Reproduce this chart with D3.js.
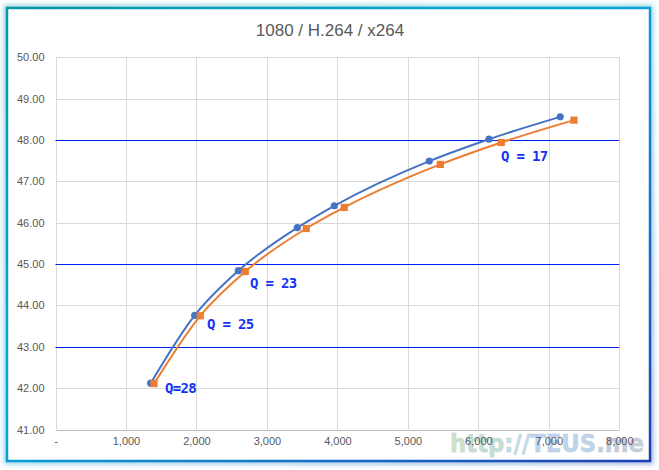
<!DOCTYPE html>
<html>
<head>
<meta charset="utf-8">
<script src="https://cdn.jsdelivr.net/npm/d3@7"></script>
<style>
  html, body { margin: 0; padding: 0; background: #fff; }
  svg { display: block; }
</style>
</head>
<body>
<div id="chartDiv"></div>
<script>
//chart data
var bitrates1 = [1351, 1975, 2594, 3431, 3956, 5304, 6151, 7162];
var psnr1 = [42.12, 43.76, 44.84, 45.88, 46.41, 47.49, 48.02, 48.56];
var bitrates2 = [1398, 2054, 2693, 3558, 4097, 5460, 6325, 7357];
var psnr2 = [42.11, 43.75, 44.82, 45.86, 46.37, 47.41, 47.94, 48.48];

var xTicks = [0, 1000, 2000, 3000, 4000, 5000, 6000, 7000, 8000];
var yTicks = [41, 42, 43, 44, 45, 46, 47, 48, 49, 50];
var refLines = [48, 45, 43];

var qLabels = ["Q=28", "Q = 25", "Q = 23", "Q = 17"];
var qLabelX = [1554, 2150, 2760, 6322];
var qLabelY = [42.0, 43.55, 44.54, 47.61];

var titleText = "1080 / H.264 / x264";

var W = 659, H = 470;
var margin = { left: 55.5, right: 39.7, top: 57.3, bottom: 40.5 };

var svg = d3.select("#chartDiv")
    .append("svg")
    .attr("width", W)
    .attr("height", H);

var defs = svg.append("defs");

var grad = defs.append("linearGradient")
    .attr("id", "frameGrad")
    .attr("x1", "0%").attr("y1", "0%")
    .attr("x2", "100%").attr("y2", "100%");
grad.append("stop").attr("offset", "0%").attr("stop-color", "#0a97a8");
grad.append("stop").attr("offset", "45%").attr("stop-color", "#0aa6d6");
grad.append("stop").attr("offset", "100%").attr("stop-color", "#1c3fb4");

var glow = defs.append("filter")
    .attr("id", "glow")
    .attr("x", "-5%").attr("y", "-5%")
    .attr("width", "110%").attr("height", "110%");
glow.append("feGaussianBlur").attr("stdDeviation", 2.5);

// frame: blurred halo then the crisp border
svg.append("rect")
    .attr("x", 7).attr("y", 8)
    .attr("width", 643).attr("height", 453)
    .attr("fill", "none")
    .attr("stroke", "url(#frameGrad)")
    .attr("stroke-opacity", 0.45)
    .attr("stroke-width", 6)
    .attr("filter", "url(#glow)");

svg.append("rect")
    .attr("x", 7).attr("y", 8)
    .attr("width", 643).attr("height", 453)
    .attr("fill", "#fff")
    .attr("stroke", "url(#frameGrad)")
    .attr("stroke-width", 2.5);

var x = d3.scaleLinear()
    .domain([0, 8000])
    .range([margin.left, W - margin.right]);

var y = d3.scaleLinear()
    .domain([41, 50])
    .range([H - margin.bottom, margin.top]);

//snap a coordinate to the pixel centre so 1px lines stay sharp
function crisp(v) { return Math.round(v) + 0.5; }

//title
svg.append("text")
    .attr("x", 330)
    .attr("y", 36)
    .attr("text-anchor", "middle")
    .attr("font-family", "Liberation Sans, Arial, sans-serif")
    .attr("font-size", "17px")
    .attr("fill", "#595959")
    .text(titleText);

//gridlines
var grid = svg.append("g").attr("class", "grid");

grid.selectAll(".vline")
    .data(xTicks)
    .enter().append("line")
    .attr("class", "vline")
    .attr("x1", function(d) { return crisp(x(d)); })
    .attr("x2", function(d) { return crisp(x(d)); })
    .attr("y1", y(50))
    .attr("y2", y(41))
    .attr("stroke", "#d9d9d9")
    .attr("stroke-width", 1);

grid.selectAll(".hline")
    .data(yTicks)
    .enter().append("line")
    .attr("class", "hline")
    .attr("x1", x(0))
    .attr("x2", x(8000))
    .attr("y1", function(d) { return crisp(y(d)); })
    .attr("y2", function(d) { return crisp(y(d)); })
    .attr("stroke", function(d) { return d === 41 ? "#bfbfbf" : "#d9d9d9"; })
    .attr("stroke-width", 1);

//blue reference lines
svg.append("g").selectAll("line")
    .data(refLines)
    .enter().append("line")
    .attr("x1", x(0))
    .attr("x2", x(8000))
    .attr("y1", function(d) { return crisp(y(d)); })
    .attr("y2", function(d) { return crisp(y(d)); })
    .attr("stroke", "#0022ff")
    .attr("stroke-width", 1.2);

//axes (tick text only, lines come from the grid)
var xAxis = d3.axisBottom(x)
    .tickValues(xTicks)
    .tickSize(0)
    .tickPadding(8)
    .tickFormat(function(d) { return d === 0 ? "-" : d3.format(",")(d); });

var yAxis = d3.axisLeft(y)
    .tickValues(yTicks)
    .tickSize(0)
    .tickPadding(11)
    .tickFormat(d3.format(".2f"));

var gx = svg.append("g")
    .attr("transform", "translate(0," + y(41) + ")")
    .call(xAxis);

var gy = svg.append("g")
    .attr("transform", "translate(" + x(0) + ",0)")
    .call(yAxis);

[gx, gy].forEach(function(g) {
    g.select(".domain").remove();
    g.selectAll("text")
        .attr("font-family", "Liberation Sans, Arial, sans-serif")
        .attr("font-size", "11px")
        .attr("fill", "#595959");
});

//series
var series = [
    { xs: bitrates1, ys: psnr1, color: "#4472c4", marker: "circle" },
    { xs: bitrates2, ys: psnr2, color: "#ed7d31", marker: "square" }
];

var line = d3.line()
    .x(function(d) { return x(d[0]); })
    .y(function(d) { return y(d[1]); })
    .curve(d3.curveMonotoneX);

series.forEach(function(s) {
    var pts = d3.zip(s.xs, s.ys);

    svg.append("path")
        .datum(pts)
        .attr("d", line)
        .attr("fill", "none")
        .attr("stroke", s.color)
        .attr("stroke-width", 2);

    if (s.marker === "circle") {
        svg.append("g").selectAll("circle")
            .data(pts)
            .enter().append("circle")
            .attr("cx", function(d) { return x(d[0]); })
            .attr("cy", function(d) { return y(d[1]); })
            .attr("r", 3.6)
            .attr("fill", s.color);
    } else {
        svg.append("g").selectAll("rect")
            .data(pts)
            .enter().append("rect")
            .attr("x", function(d) { return x(d[0]) - 3.6; })
            .attr("y", function(d) { return y(d[1]) - 3.6; })
            .attr("width", 7.2)
            .attr("height", 7.2)
            .attr("fill", s.color);
    }
});

//Q annotations
svg.append("g").selectAll("text")
    .data(d3.range(qLabels.length))
    .enter().append("text")
    .attr("x", function(i) { return x(qLabelX[i]); })
    .attr("y", function(i) { return y(qLabelY[i]); })
    .attr("dy", "0.35em")
    .attr("font-family", "DejaVu Sans Mono, monospace")
    .attr("font-weight", "bold")
    .attr("font-size", "14px")
    .attr("letter-spacing", "-0.7px")
    .attr("fill", "#1434f5")
    .text(function(i) { return qLabels[i]; });

//watermark, squeezed to the width it has in the picture
var wm = svg.append("text")
    .attr("x", 450)
    .attr("y", 452)
    .attr("textLength", 194)
    .attr("lengthAdjust", "spacingAndGlyphs")
    .attr("font-family", "DejaVu Sans, sans-serif")
    .attr("font-weight", "bold")
    .attr("font-size", "25px")
    .attr("fill-opacity", 0.75)
    .attr("stroke", "#c8c8c8")
    .attr("stroke-opacity", 0.5)
    .attr("stroke-width", 1);

[["h", "#b9dcb4"], ["ttp", "#a9d9cc"], ["://", "#a3d8ee"], ["TEUS", "#a6c6ea"], [".me", "#aebfd8"]]
    .forEach(function(p) {
        wm.append("tspan").attr("fill", p[1]).text(p[0]);
    });

//x labels sit on top of watermark
gx.raise();
</script>
</body>
</html>
